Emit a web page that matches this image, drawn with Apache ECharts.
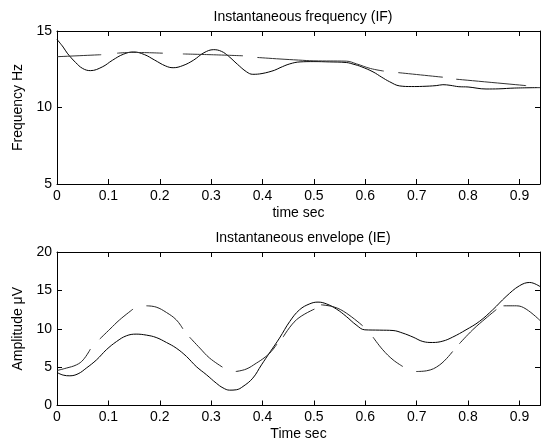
<!DOCTYPE html>
<html>
<head>
<meta charset="utf-8">
<script src="https://cdn.jsdelivr.net/npm/echarts@6/dist/echarts.min.js"></script>
<style>
  html, body { margin: 0; padding: 0; background: #fff; }
  #chart { width: 552px; height: 443px; }
</style>
</head>
<body>
<div id="chart"></div>
<script>
// top panel: instantaneous frequency
const ifTime = [0, 0.012, 0.02, 0.036, 0.05, 0.065, 0.088, 0.108, 0.129, 0.149, 0.17, 0.19, 0.211, 0.226, 0.245, 0.266, 0.286, 0.305, 0.32, 0.334, 0.351, 0.369, 0.381, 0.399, 0.423, 0.434, 0.453, 0.473, 0.5, 0.53, 0.563, 0.578, 0.592, 0.615, 0.632, 0.647, 0.667, 0.69, 0.711, 0.738, 0.751, 0.765, 0.782, 0.8, 0.835, 0.86, 0.89, 0.94]
const ifValue = [14.45, 13.95, 13.55, 12.95, 12.55, 12.41, 12.65, 13.09, 13.48, 13.63, 13.46, 13.1, 12.72, 12.6, 12.74, 13.1, 13.58, 13.78, 13.67, 13.35, 12.83, 12.33, 12.17, 12.22, 12.43, 12.6, 12.85, 12.98, 13.0, 12.98, 12.94, 12.82, 12.67, 12.33, 11.98, 11.69, 11.41, 11.37, 11.38, 11.43, 11.49, 11.45, 11.36, 11.34, 11.21, 11.22, 11.27, 11.3]
// estimated IF, null = gap between dashes
const ifEstTime = [0, 0.086, 0.1, 0.117, 0.145, 0.206, 0.22, 0.245, 0.3, 0.362, 0.375, 0.39, 0.434, 0.47, 0.5, 0.563, 0.583, 0.61, 0.636, 0.65, 0.664, 0.751, 0.765, 0.777, 0.913]
const ifEstValue = [13.32, 13.45, null, 13.55, 13.6, 13.55, null, 13.5, 13.45, 13.38, null, 13.27, 13.17, 13.1, 13.05, 13.03, 12.85, 12.55, 12.38, null, 12.28, 11.98, null, 11.85, 11.43]

// bottom panel: instantaneous envelope
const ieTime = [0, 0.012, 0.025, 0.041, 0.057, 0.077, 0.096, 0.116, 0.135, 0.154, 0.174, 0.193, 0.213, 0.232, 0.252, 0.271, 0.291, 0.31, 0.323, 0.336, 0.349, 0.362, 0.381, 0.398, 0.415, 0.433, 0.453, 0.472, 0.492, 0.508, 0.524, 0.544, 0.563, 0.582, 0.599, 0.628, 0.654, 0.673, 0.693, 0.712, 0.731, 0.751, 0.77, 0.796, 0.822, 0.848, 0.874, 0.9, 0.92, 0.94]
const ieValue = [4.3, 3.96, 3.87, 4.13, 4.87, 5.95, 7.26, 8.34, 9.08, 9.3, 9.17, 8.86, 8.21, 7.48, 6.39, 5.08, 4.0, 2.91, 2.3, 2.0, 2.05, 2.48, 3.56, 5.3, 7.0, 8.78, 10.95, 12.47, 13.25, 13.47, 13.25, 12.56, 11.6, 10.51, 9.86, 9.82, 9.77, 9.43, 8.91, 8.34, 8.21, 8.39, 8.91, 9.86, 10.95, 12.47, 14.2, 15.6, 16.03, 15.5]
const ieEstTime = [0, 0.018, 0.038, 0.051, 0.065, 0.074, 0.083, 0.103, 0.122, 0.148, 0.16, 0.174, 0.193, 0.213, 0.232, 0.245, 0.25, 0.258, 0.278, 0.297, 0.322, 0.335, 0.348, 0.368, 0.388, 0.405, 0.417, 0.428, 0.434, 0.44, 0.466, 0.501, 0.507, 0.514, 0.54, 0.563, 0.595, 0.605, 0.615, 0.634, 0.654, 0.673, 0.686, 0.699, 0.719, 0.745, 0.77, 0.776, 0.783, 0.809, 0.835, 0.855, 0.862, 0.869, 0.894, 0.913, 0.94]
const ieEstValue = [4.56, 4.87, 5.3, 5.95, 7.35, null, 8.65, 9.95, 11.17, 12.56, null, 12.99, 12.82, 12.12, 11.17, 9.99, null, 8.91, 7.48, 6.18, 5.0, null, 4.43, 4.74, 5.52, 6.3, 7.04, 8.0, null, 8.91, 11.17, 12.56, null, 13.12, 12.82, 12.04, 10.38, null, 8.91, 7.26, 5.95, 5.08, null, 4.43, 4.52, 5.3, 7.04, null, 8.04, 9.86, 11.39, 12.5, null, 12.99, 12.99, 12.56, 11.08]

const xTicks = ['0', '0.1', '0.2', '0.3', '0.4', '0.5', '0.6', '0.7', '0.8', '0.9']

const pairs = (xs, ys) => xs.map((x, i) => [x, ys[i] === null ? '-' : ys[i]])

const font = 'Liberation Sans, Arial, sans-serif'
const black = '#000'

const xAxisBase = (gridIndex, pos, name) => ({
  type: 'value',
  gridIndex,
  position: pos,
  min: 0,
  max: 0.94,
  interval: 0.1,
  name: name || '',
  nameLocation: 'middle',
  nameGap: 22,
  nameTextStyle: { fontFamily: font, fontSize: 14, color: black },
  axisLine: { show: true, onZero: false, lineStyle: { color: black, width: 1 } },
  axisTick: { show: true, inside: true, length: 5, lineStyle: { color: black } },
  axisLabel: {
    show: pos === 'bottom',
    showMaxLabel: false,
    margin: 5,
    fontFamily: font,
    fontSize: 14,
    color: black,
    formatter: v => xTicks[Math.round(v * 10)] ?? ''
  },
  splitLine: { show: false }
})

const yAxisBase = (gridIndex, pos, min, max, name) => ({
  type: 'value',
  gridIndex,
  position: pos,
  min,
  max,
  interval: 5,
  name: name || '',
  nameLocation: 'middle',
  nameGap: 28,
  nameTextStyle: { fontFamily: font, fontSize: 14, color: black },
  axisLine: { show: true, onZero: false, lineStyle: { color: black, width: 1 } },
  axisTick: { show: true, inside: true, length: 5, lineStyle: { color: black } },
  axisLabel: { show: pos === 'left', margin: 5, fontFamily: font, fontSize: 14, color: black },
  splitLine: { show: false }
})

const lineSeries = (xi, yi, data, color) => ({
  type: 'line',
  xAxisIndex: xi,
  yAxisIndex: yi,
  data,
  smooth: 0.4,
  showSymbol: false,
  connectNulls: false,
  silent: true,
  lineStyle: { color, width: 1 }
})

const chart = echarts.init(document.getElementById('chart'))
chart.setOption({
  animation: false,
  backgroundColor: '#fff',
  title: [
    { text: 'Instantaneous frequency (IF)', left: 298, top: 5, textAlign: 'center',
      textStyle: { fontFamily: font, fontSize: 14, fontWeight: 'normal', color: black } },
    { text: 'Instantaneous envelope (IE)', left: 298, top: 226, textAlign: 'center',
      textStyle: { fontFamily: font, fontSize: 14, fontWeight: 'normal', color: black } }
  ],
  grid: [
    { left: 57, right: 12, top: 31, height: 153 },
    { left: 57, right: 12, top: 252, height: 153.5 }
  ],
  xAxis: [
    xAxisBase(0, 'bottom', 'time sec'),
    xAxisBase(0, 'top'),
    xAxisBase(1, 'bottom', 'Time sec'),
    xAxisBase(1, 'top')
  ],
  yAxis: [
    yAxisBase(0, 'left', 5, 15, 'Frequency Hz'),
    yAxisBase(0, 'right', 5, 15),
    yAxisBase(1, 'left', 0, 20, 'Amplitude \u03bcV'),
    yAxisBase(1, 'right', 0, 20)
  ],
  series: [
    lineSeries(0, 0, pairs(ifTime, ifValue), black),
    lineSeries(0, 0, pairs(ifEstTime, ifEstValue), '#333'),
    lineSeries(2, 2, pairs(ieTime, ieValue), black),
    lineSeries(2, 2, pairs(ieEstTime, ieEstValue), '#222')
  ]
})
</script>
</body>
</html>
